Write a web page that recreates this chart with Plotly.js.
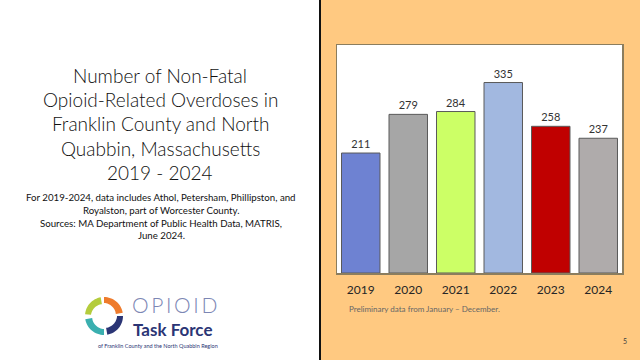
<!DOCTYPE html>
<html><head><meta charset="utf-8">
<script src="https://cdn.plot.ly/plotly-3.0.1.min.js"></script>
<style>html,body{margin:0;padding:0;background:#fff;}#chart{width:640px;height:360px;}</style>
</head><body><div id="chart"></div>
<script>
var years = ["2019","2020","2021","2022","2023","2024"];
var overdoses = [211, 279, 284, 335, 258, 237];
var barColors = ["#6E82D2","#A6A6A6","#CCFF66","#A2B8E0","#C00000","#AFABAB"];
var titleLines = ["Number of Non-Fatal","Opioid-Related Overdoses in","Franklin County and North","Quabbin, Massachusetts","2019 - 2024"];
var noteLines = ["For 2019-2024, data includes Athol, Petersham, Phillipston, and","Royalston, part of Worcester County.","Sources: MA Department of Public Health Data, MATRIS,","June 2024."];
var footnote = "Preliminary data from January \u2013 December.";
var pageNumber = "5";

var W=640,H=360,L=337,R=622,T=45,B=273;
function X(p){return (p-L)/(R-L);}
function Y(p){return (B-p)/(B-T);}
var FONT = "Lato, 'Open Sans', sans-serif";

var annotations = [];
var titleY = [75, 99.5, 123.5, 148, 172.5];
titleLines.forEach(function(t,i){
  annotations.push({xref:'paper',yref:'paper',x:X(160),y:Y(titleY[i]),text:t,showarrow:false,
    xanchor:'center',yanchor:'middle',font:{family:FONT,size:19,color:'#111111',weight:300}});
});
var noteY = [197.3, 210, 222.5, 235.3];
noteLines.forEach(function(t,i){
  annotations.push({xref:'paper',yref:'paper',x:X(161),y:Y(noteY[i]),text:t,showarrow:false,
    xanchor:'center',yanchor:'middle',font:{family:FONT,size:9.7,color:'#111'}});
});
annotations.push({xref:'paper',yref:'paper',x:X(347),y:Y(309),text:footnote,showarrow:false,
  xanchor:'left',yanchor:'middle',font:{family:FONT,size:8,color:'#666'}});
annotations.push({xref:'paper',yref:'paper',x:X(625),y:Y(341),text:pageNumber,showarrow:false,
  xanchor:'center',yanchor:'middle',font:{family:FONT,size:7,color:'#404040'}});
// logo text
annotations.push({xref:'paper',yref:'paper',x:X(130),y:Y(304),text:"O\u2009P\u2009I\u2009O\u2009I\u2009D",showarrow:false,
  xanchor:'left',yanchor:'middle',font:{family:FONT,size:21,color:'#7C86B4',weight:300}});
annotations.push({xref:'paper',yref:'paper',x:X(131),y:Y(329),text:"<b>Task Force</b>",showarrow:false,
  xanchor:'left',yanchor:'middle',font:{family:FONT,size:17,color:'#2B3575'}});
annotations.push({xref:'paper',yref:'paper',x:X(158),y:Y(345.5),text:"of Franklin County and the North Quabbin Region",showarrow:false,
  xanchor:'center',yanchor:'middle',font:{family:FONT,size:5.5,color:'#2B3575'}});

function arcPath(cx,cy,r1,r2,a0,a1){
  var n=16, pts=[], i, a;
  for(i=0;i<=n;i++){a=(a0+(a1-a0)*i/n)*Math.PI/180;pts.push([cx+r2*Math.cos(a),cy-r2*Math.sin(a)]);}
  for(i=n;i>=0;i--){a=(a0+(a1-a0)*i/n)*Math.PI/180;var rr=r1+(r2-r1)*0.15*(i/n);pts.push([cx+rr*Math.cos(a),cy-rr*Math.sin(a)]);}
  return 'M'+pts.map(function(p){return X(p[0]).toFixed(5)+','+Y(p[1]).toFixed(5);}).join(' L')+' Z';
}
var shapes = [
  {type:'rect',xref:'paper',yref:'paper',x0:X(0),x1:X(319),y0:Y(360),y1:Y(0),fillcolor:'#ffffff',line:{width:0},layer:'below'},
  {type:'line',xref:'paper',yref:'paper',x0:X(320),x1:X(320),y0:Y(360),y1:Y(0),line:{color:'#111',width:2}},
  {type:'path',xref:'paper',yref:'paper',path:arcPath(104,316,12,19,100,175),fillcolor:'#B4CC3C',line:{width:0}},
  {type:'path',xref:'paper',yref:'paper',path:arcPath(104,316,12,19,10,90),fillcolor:'#EE7B2C',line:{width:0}},
  {type:'path',xref:'paper',yref:'paper',path:arcPath(104,316,12,19,-80,0),fillcolor:'#2B3575',line:{width:0}},
  {type:'path',xref:'paper',yref:'paper',path:arcPath(104,316,12,19,-170,-90),fillcolor:'#3AAFAF',line:{width:0}}
];

var trace = {type:'bar',x:years,y:overdoses,marker:{color:barColors,line:{color:'#5a5a5a',width:1}},
  text:overdoses.map(String),textposition:'outside',cliponaxis:false,
  textfont:{family:FONT,size:11,color:'#333'},hoverinfo:'none'};

var layout = {width:W,height:H,margin:{l:L,r:W-R,t:T,b:H-B,pad:0},
  paper_bgcolor:'#FFC981',plot_bgcolor:'#ffffff',bargap:0.19,showlegend:false,
  xaxis:{type:'category',tickmode:'array',tickvals:years,ticktext:years,showline:true,mirror:true,
    linecolor:'#8B7D5E',linewidth:1.5,ticks:'',showgrid:false,ticklabelstandoff:5,
    tickfont:{family:FONT,size:12,color:'#262626'},fixedrange:true},
  yaxis:{range:[0,401],showline:true,mirror:true,linecolor:'#8B7D5E',linewidth:1.5,showticklabels:false,
    ticks:'',showgrid:false,zeroline:false,fixedrange:true},
  shapes:shapes,annotations:annotations};
Plotly.newPlot('chart',[trace],layout,{staticPlot:true});
</script></body></html>
